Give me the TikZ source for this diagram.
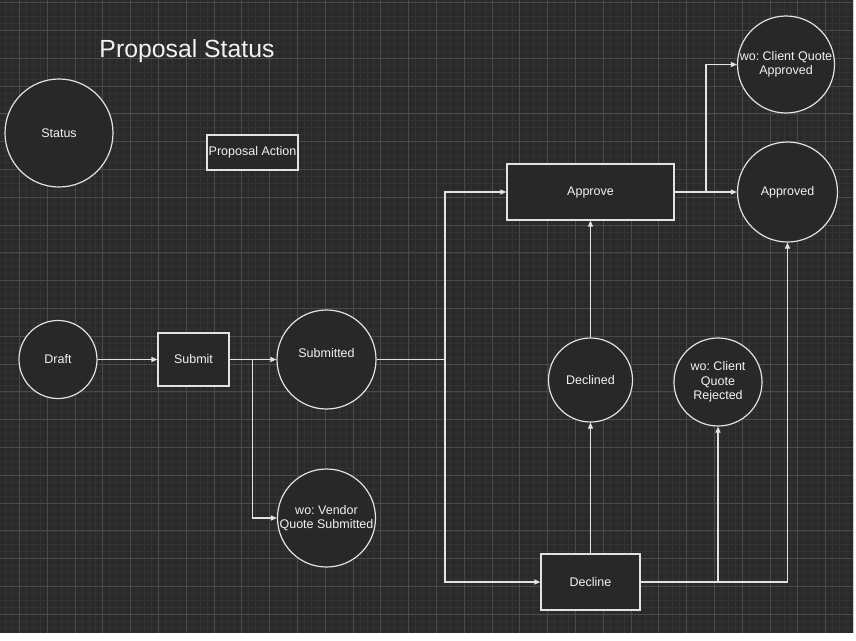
\documentclass[tikz,border=0pt]{standalone}
\usepackage{fontspec}
\setmainfont{Liberation Sans}
\frenchspacing
\usetikzlibrary{arrows.meta}
\definecolor{bgc}{RGB}{42,42,42}
\definecolor{nodefill}{RGB}{40,40,40}
\definecolor{minorc}{RGB}{51,51,51}
\definecolor{majorc}{RGB}{74,74,74}
\definecolor{linec}{RGB}{226,226,226}
\definecolor{txtc}{RGB}{242,242,242}
\tikzset{
  minorline/.style={draw=minorc, line width=0.6pt},
  majorline/.style={draw=majorc, line width=0.8pt},
  lbl/.style={text=txtc, font=\fontsize{12.5}{14.5}\selectfont, align=center},
  state/.style={circle, draw=linec, line width=1.2pt, fill=nodefill, inner sep=0pt, lbl},
  actbox/.style={rectangle, draw=linec, line width=1.2pt, fill=nodefill, inner sep=0pt, lbl},
  conn/.style={draw=linec, line width=1.2pt},
  arr/.style={conn, -{Triangle[length=6pt,width=5pt]}},
}
\begin{document}
\begin{tikzpicture}[x=1pt,y=-1pt]
\useasboundingbox (0,0) rectangle (856,640);
\fill[white] (0,0) rectangle (856,640);
\fill[bgc] (0,0) rectangle (853,633);
\begin{scope}
\clip (0,0) rectangle (853,633);
\foreach \i in {0,...,125} {\draw[minorline] ({-8.5+\i*6.95},0) -- ++(0,633);}
\foreach \i in {0,...,93} {\draw[minorline] (0,{-4.35+\i*6.95}) -- ++(853,0);}
\foreach \i in {0,...,31} {\draw[majorline] ({-8.5+\i*27.8},0) -- ++(0,633);}
\foreach \i in {0,...,23} {\draw[majorline] (0,{2.6+\i*27.8}) -- ++(853,0);}
\end{scope}

% title
\node[text=txtc, font=\fontsize{24.8}{30}\selectfont, anchor=base, inner sep=0pt] (title) at (187,57) {Proposal Status};

% legend
\node[state, minimum size=108pt] (status) at (59,133) {Status};
\node[actbox, minimum width=91pt, minimum height=35pt] (action) at (252.5,152.5) {Proposal Action};

% nodes
\node[state, minimum size=78pt] (draft) at (58,359.5) {Draft};
\node[actbox, minimum width=71pt, minimum height=53pt] (submit) at (193.5,359.5) {Submit};
\node[state, minimum size=99pt, label={[lbl, yshift=6.5pt]center:Submitted}] (submitted) at (326.5,359.5) {};
\node[state, minimum size=98pt] (vendor) at (326.5,518) {wo: Vendor\\Quote Submitted};
\node[actbox, minimum width=167pt, minimum height=56pt] (approve) at (590.5,192) {Approve};
\node[state, minimum size=97pt] (cqa) at (786,64.5) {wo: Client Quote\\Approved};
\node[state, minimum size=100pt] (approved) at (787.5,192) {Approved};
\node[state, minimum size=84pt] (declined) at (590.5,380) {Declined};
\node[state, minimum size=88pt] (rejected) at (718,382) {wo: Client\\Quote\\Rejected};
\node[actbox, minimum width=99pt, minimum height=56pt] (decline) at (590.5,582) {Decline};

% junction coordinates
\coordinate (b1) at (252.5,359.5);
\coordinate (j1) at (445,359.5);
\coordinate (b2) at (706,192);

% connectors
\draw[arr] (draft.east) -- (submit.west);
\draw[arr] (submit.east) -- (submitted.west);
\draw[arr] (b1) |- (vendor.west);
\draw[conn] (submitted.east) -- (j1);
\draw[arr] (j1) |- (approve.west);
\draw[arr] (j1) |- (decline.west);
\draw[arr] (approve.east) -- (approved.west);
\draw[arr] (b2) |- (cqa.west);
\draw[arr] (decline.north) -- (declined.south);
\draw[arr] (declined.north) -- (approve.south);
\draw[arr] (decline.east) -| (approved.south);
\draw[arr] (decline.east -| rejected.south) -- (rejected.south);
\end{tikzpicture}
\end{document}
